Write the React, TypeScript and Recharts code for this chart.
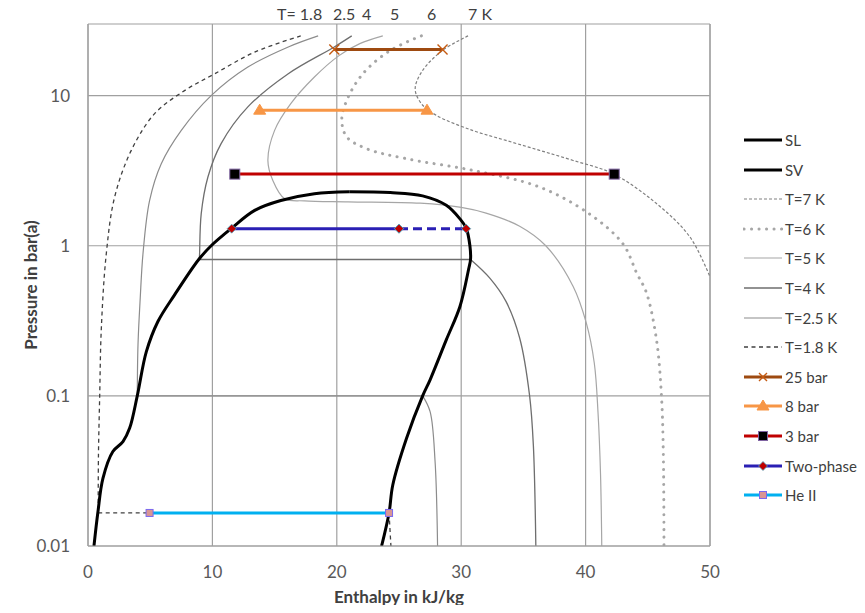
import React from 'react';
import { ComposedChart, Line, XAxis, YAxis, CartesianGrid, ReferenceLine, Label } from 'recharts';

// ---------- data: [enthalpy kJ/kg, pressure bar(a)] ----------
const SL = [[0.48,0.01],[0.8,0.0169],[1.2,0.0282],[2.0,0.0426],[2.81,0.0496],[3.35,0.061],[3.96,0.1],[4.69,0.197],[5.62,0.313],[6.96,0.471],[8.9,0.81],[9.9,1.0],[11.55,1.31],[13.4,1.72],[15.5,2.0],[18.2,2.22],[21.0,2.29]];
const SV = [[21.0,2.29],[24.3,2.26],[26.9,2.15],[28.8,1.86],[29.9,1.51],[30.4,1.31],[30.7,1.0],[30.75,0.81],[30.6,0.7],[29.9,0.394],[28.8,0.236],[27.5,0.128],[26.9,0.1],[25.6,0.052],[24.5,0.0255],[24.2,0.0166],[23.6,0.01]];

const T7 = [[30.55,25],[28.5,20],[26.9,14.7],[26.3,11.1],[26.8,8.84],[28.0,7.39],[30.9,5.87],[33.6,5.03],[36.3,4.32],[39.0,3.70],[42.2,3.02],[45.7,1.91],[48.4,1.14],[50.0,0.62]];
const T6 = [[26.8,25],[24.3,20.0],[22.1,14.0],[20.8,9.3],[20.4,6.84],[20.8,5.31],[22.4,4.43],[25.6,3.80],[30.9,3.18],[36.3,2.46],[40.3,1.63],[43.0,1.03],[44.1,0.66],[44.9,0.484],[45.7,0.236],[46.1,0.099],[46.25,0.04],[46.3,0.01]];
const T5 = [[23.7,25],[21.85,22.2],[20.15,18.4],[18.2,13.3],[16.3,8.84],[15.0,5.87],[14.46,3.70],[14.86,2.72],[15.8,2.06],[17.4,1.99],[20.9,1.96],[26.7,1.92],[30.0,1.8],[32.0,1.65],[34.7,1.35],[36.8,1.0],[39.0,0.536],[40.06,0.305],[40.7,0.165],[41.0,0.077],[41.2,0.03],[41.3,0.01]];
const T4_LIQ = [[21.2,25],[19.8,21.1],[16.1,14.0],[12.85,8.41],[10.7,4.79],[9.64,2.87],[9.1,1.63],[8.97,0.885],[8.95,0.81]];
const T4_FLAT = [[8.95,0.81],[30.75,0.81]];
const T4_VAP = [[30.75,0.81],[32.3,0.609],[33.6,0.426],[34.7,0.243],[35.5,0.1],[35.8,0.047],[36.0,0.01]];
const T25_LIQ = [[18.5,25],[16.1,21.1],[12.85,15.5],[9.9,10],[7.5,5.87],[5.89,3.52],[4.95,2.0],[4.42,0.885],[4.2,0.45],[4.02,0.22],[3.96,0.1]];
const T25_FLAT = [[3.96,0.1],[26.9,0.1]];
const T25_VAP = [[26.9,0.1],[27.5,0.0785],[27.9,0.0365],[28.1,0.01]];
const T18_LIQ = [[17.1,25],[13.4,19.5],[10.2,14.0],[7.76,10.8],[5.36,7.59],[3.48,4.32],[2.14,2.11],[1.47,0.885],[1.07,0.28],[0.94,0.1],[0.84,0.04],[0.82,0.0166]];
const T18_FLAT = [[0.82,0.0166],[24.2,0.0166]];
const T18_VAP = [[24.2,0.0166],[24.35,0.01]];

const BAR25 = [[19.8,20.3],[28.5,20.3]];
const BAR8 = [[13.8,8],[27.25,8]];
const BAR3 = [[11.8,3],[42.3,3]];
const TWO_SOLID = [[11.55,1.3],[25.0,1.3]];
const TWO_DASH = [[25.0,1.3],[30.4,1.3]];
const HE2 = [[4.95,0.0166],[24.2,0.0166]];

const X_TICKS = [0, 10, 20, 30, 40, 50];
const Y_TICKS = [0.01, 0.1, 1, 10];
const TOP_LABELS = [
  { text: 'T= 1.8', left: 277 },
  { text: '2.5', left: 333 },
  { text: '4', left: 362 },
  { text: '5', left: 390 },
  { text: '6', left: 427 },
  { text: '7 K', left: 468 },
];

const toPts = (a: number[][]) => a.map(([h, p]) => ({ h, p }));

const FONT = 'Lato, "Open Sans", sans-serif';
const GRID = '#a0a0a0';

// ---------- centripetal Catmull-Rom curve (smooth line through the points) ----------
function drawCR(ctx: any, pts: number[][]) {
  const n = pts.length;
  if (!n) return;
  ctx.moveTo(pts[0][0], pts[0][1]);
  if (n === 1) return;
  const al = 0.5;
  const eps = 1e-9;
  for (let i = 0; i < n - 1; i++) {
    const p0 = pts[i - 1] || pts[i];
    const p1 = pts[i];
    const p2 = pts[i + 1];
    const p3 = pts[i + 2] || pts[i + 1];
    const d01 = Math.hypot(p1[0] - p0[0], p1[1] - p0[1]);
    const d12 = Math.hypot(p2[0] - p1[0], p2[1] - p1[1]);
    const d23 = Math.hypot(p3[0] - p2[0], p3[1] - p2[1]);
    const l01a = Math.pow(d01, al), l01_2a = Math.pow(d01, 2 * al);
    const l12a = Math.pow(d12, al), l12_2a = Math.pow(d12, 2 * al);
    const l23a = Math.pow(d23, al), l23_2a = Math.pow(d23, 2 * al);
    let c1x = p1[0], c1y = p1[1], c2x = p2[0], c2y = p2[1];
    if (l01a > eps) {
      const a = 2 * l01_2a + 3 * l01a * l12a + l12_2a;
      const m = 3 * l01a * (l01a + l12a);
      c1x = (p1[0] * a - p0[0] * l12_2a + p2[0] * l01_2a) / m;
      c1y = (p1[1] * a - p0[1] * l12_2a + p2[1] * l01_2a) / m;
    }
    if (l23a > eps) {
      const b = 2 * l23_2a + 3 * l23a * l12a + l12_2a;
      const m = 3 * l23a * (l23a + l12a);
      c2x = (p2[0] * b + p1[0] * l23_2a - p3[0] * l12_2a) / m;
      c2y = (p2[1] * b + p1[1] * l23_2a - p3[1] * l12_2a) / m;
    }
    ctx.bezierCurveTo(c1x, c1y, c2x, c2y, p2[0], p2[1]);
  }
}
const smooth: any = (context: any) => {
  let pts: number[][] = [];
  return {
    areaStart() {},
    areaEnd() {},
    lineStart() { pts = []; },
    lineEnd() { drawCR(context, pts); },
    point(x: number, y: number) { pts.push([+x, +y]); },
  };
};

// ---------- markers ----------
const cross = (cx: number, cy: number, s = 5) => (
  <path d={`M${cx - s},${cy - s}L${cx + s},${cy + s}M${cx - s},${cy + s}L${cx + s},${cy - s}`} stroke="#C55A11" strokeWidth={1.4} fill="none" />
);
const tri = (cx: number, cy: number) => (
  <polygon points={`${cx},${cy - 6} ${cx + 6},${cy + 4} ${cx - 6},${cy + 4}`} fill="#F79646" stroke="#F79646" strokeWidth={1} />
);
const sq3 = (cx: number, cy: number, s = 5) => (
  <rect x={cx - s} y={cy - s} width={2 * s} height={2 * s} fill="#000" stroke="#8064A2" strokeWidth={1} />
);
const diamond = (cx: number, cy: number, s = 4.5) => (
  <polygon points={`${cx},${cy - s} ${cx + s},${cy} ${cx},${cy + s} ${cx - s},${cy}`} fill="#C00000" stroke="#4BACC6" strokeWidth={0.8} />
);
const sqHe = (cx: number, cy: number, s = 3.5) => (
  <rect x={cx - s} y={cy - s} width={2 * s} height={2 * s} fill="#D99694" stroke="#7B68EE" strokeWidth={1} />
);

const mkDot = (fn: (cx: number, cy: number) => React.ReactElement) => (props: any) => {
  const { cx, cy, index } = props;
  if (cx == null || cy == null) return <g key={`d${index}`} />;
  return <g key={`d${index}`}>{fn(cx, cy)}</g>;
};

// ---------- legend ----------
type LegendItem = { name: string; stroke: string; width: number; dash?: string; cap?: 'round' | 'butt'; marker?: (cx: number, cy: number) => React.ReactElement };
const LEGEND: LegendItem[] = [
  { name: 'SL', stroke: '#000', width: 3 },
  { name: 'SV', stroke: '#000', width: 3 },
  { name: 'T=7 K', stroke: '#808080', width: 1.2, dash: '3 2' },
  { name: 'T=6 K', stroke: '#a6a6a6', width: 3, dash: '0.1 7.4', cap: 'round' },
  { name: 'T=5 K', stroke: '#a6a6a6', width: 1.2 },
  { name: 'T=4 K', stroke: '#6e6e6e', width: 1.4 },
  { name: 'T=2.5 K', stroke: '#8c8c8c', width: 1.2 },
  { name: 'T=1.8 K', stroke: '#404040', width: 1.3, dash: '4 3.5' },
  { name: '25 bar', stroke: '#9E4A10', width: 3, marker: (cx, cy) => cross(cx, cy, 4) },
  { name: '8 bar', stroke: '#F79646', width: 3, marker: tri },
  { name: '3 bar', stroke: '#C00000', width: 3, marker: (cx, cy) => sq3(cx, cy, 4.5) },
  { name: 'Two-phase', stroke: '#2A1FB4', width: 3, marker: diamond },
  { name: 'He II', stroke: '#00B0F0', width: 3, marker: sqHe },
];

export default function App() {
  const iso = (key: string, data: number[][], stroke: string, width: number, type: any, dash?: string, cap?: string) => (
    <Line
      key={key}
      data={toPts(data)}
      dataKey="p"
      type={type}
      stroke={stroke}
      strokeWidth={width}
      strokeDasharray={dash}
      strokeLinecap={cap as any}
      dot={false}
      activeDot={false}
      isAnimationActive={false}
    />
  );
  const marked = (key: string, data: number[][], stroke: string, fn: any, dash?: string) => (
    <Line
      key={key}
      data={toPts(data)}
      dataKey="p"
      type="linear"
      stroke={stroke}
      strokeWidth={3}
      strokeDasharray={dash}
      dot={mkDot(fn)}
      activeDot={false}
      isAnimationActive={false}
    />
  );

  return (
    <div style={{ position: 'relative', width: 865, height: 613, margin: '-8px -8px -8px -8px', fontFamily: FONT, background: '#fff', overflow: 'hidden' }}>
      <ComposedChart width={865} height={613} margin={{ top: 24, right: 155, left: 0, bottom: 0 }}>
        <CartesianGrid stroke={GRID} strokeWidth={1.2} horizontalValues={Y_TICKS} verticalValues={X_TICKS} />
        <XAxis
          type="number"
          dataKey="h"
          domain={[0, 50]}
          ticks={X_TICKS}
          allowDataOverflow
          height={67}
          tickSize={0}
          tickMargin={20}
          axisLine={{ stroke: GRID, strokeWidth: 1.2 }}
          tick={{ fill: '#595959', fontSize: 17, fontFamily: FONT }}
        >
          <Label value="Enthalpy in kJ/kg" position="insideBottom" offset={10} style={{ fill: '#404040', fontSize: 17, fontWeight: 700, fontFamily: FONT }} />
        </XAxis>
        <YAxis
          type="number"
          scale="log"
          domain={[0.01, 30]}
          ticks={Y_TICKS}
          allowDataOverflow
          width={88}
          tickSize={0}
          tickMargin={18}
          axisLine={{ stroke: GRID, strokeWidth: 1.2 }}
          tick={{ fill: '#595959', fontSize: 17, fontFamily: FONT }}
        >
          <Label value="Pressure in bar(a)" angle={-90} position="insideLeft" offset={31} style={{ textAnchor: 'middle', fill: '#404040', fontSize: 17, fontWeight: 700, fontFamily: FONT }} />
        </YAxis>
        <ReferenceLine y={30} stroke={GRID} strokeWidth={1.2} />
        <ReferenceLine x={50} stroke={GRID} strokeWidth={1.2} />

        {iso('t7', T7, '#808080', 1.2, smooth, '3 2')}
        {iso('t6', T6, '#a6a6a6', 3, smooth, '0.1 7.4', 'round')}
        {iso('t5', T5, '#a6a6a6', 1.2, smooth)}
        {iso('t4l', T4_LIQ, '#6e6e6e', 1.3, smooth)}
        {iso('t4f', T4_FLAT, '#6e6e6e', 1.3, 'linear')}
        {iso('t4v', T4_VAP, '#6e6e6e', 1.3, smooth)}
        {iso('t25l', T25_LIQ, '#8c8c8c', 1.2, smooth)}
        {iso('t25f', T25_FLAT, '#8c8c8c', 1.2, 'linear')}
        {iso('t25v', T25_VAP, '#8c8c8c', 1.2, smooth)}
        {iso('t18l', T18_LIQ, '#404040', 1.3, smooth, '4 3.5')}
        {iso('t18f', T18_FLAT, '#404040', 1.3, 'linear', '4 3.5')}
        {iso('t18v', T18_VAP, '#404040', 1.3, 'linear', '4 3.5')}

        {iso('sl', SL, '#000', 3, smooth)}
        {iso('sv', SV, '#000', 3, smooth)}

        {marked('b25', BAR25, '#9E4A10', (cx: number, cy: number) => cross(cx, cy))}
        {marked('b8', BAR8, '#F79646', tri)}
        {marked('b3', BAR3, '#C00000', sq3)}
        {marked('tpd', TWO_DASH, '#2A1FB4', diamond, '9 5')}
        {marked('tps', TWO_SOLID, '#2A1FB4', diamond)}
        {marked('he2', HE2, '#00B0F0', sqHe)}
      </ComposedChart>

      {TOP_LABELS.map((t) => (
        <div key={t.text} style={{ position: 'absolute', left: t.left, top: 3, height: 22, lineHeight: '22px', fontSize: 16, color: '#404040', whiteSpace: 'pre' }}>
          {t.text}
        </div>
      ))}

      <div style={{ position: 'absolute', left: 743, top: 0 }}>
        {LEGEND.map((it, i) => (
          <div key={it.name} style={{ position: 'absolute', left: 0, top: 140 + i * 29.6 - 11, height: 22, display: 'flex', alignItems: 'center', whiteSpace: 'nowrap' }}>
            <svg width={40} height={22} style={{ display: 'block' }}>
              <line x1={1} y1={11} x2={39} y2={11} stroke={it.stroke} strokeWidth={it.width} strokeDasharray={it.dash} strokeLinecap={it.cap || 'butt'} />
              {it.marker ? it.marker(20, 11) : null}
            </svg>
            <span style={{ fontSize: 15, color: '#404040', marginLeft: 2, lineHeight: '22px' }}>{it.name}</span>
          </div>
        ))}
      </div>
    </div>
  );
}
